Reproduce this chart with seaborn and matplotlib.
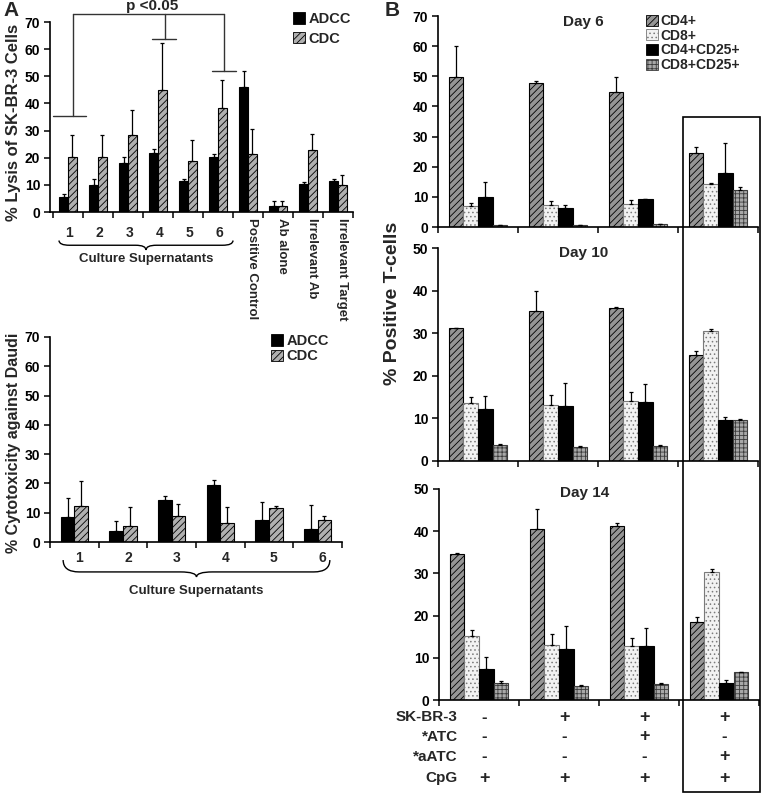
import numpy as np
import pandas as pd
import matplotlib
matplotlib.use("Agg")
import matplotlib.pyplot as plt
import seaborn as sns
from matplotlib.patches import Patch, Rectangle, PathPatch
from matplotlib.path import Path
import matplotlib.transforms as mtransforms

sns.set_theme(style="ticks")
plt.rcParams['font.family'] = ['Liberation Sans', 'DejaVu Sans']
plt.rcParams['font.weight'] = 'bold'
plt.rcParams['hatch.linewidth'] = 0.6
plt.rcParams['axes.edgecolor'] = 'black'
plt.rcParams['xtick.color'] = 'black'
plt.rcParams['ytick.color'] = 'black'

W, H = 761, 793

# Panel A (top): lysis of SK-BR-3 cells
lysis_groups = ["1", "2", "3", "4", "5", "6",
                "Positive Control", "Ab alone", "Irrelevant Ab", "Irrelevant Target"]
lysis_adcc = [5.6, 9.9, 18.0, 21.7, 11.6, 20.1, 46.0, 2.2, 10.2, 11.6]
lysis_adcc_top = [6.6, 12.2, 20.2, 23.1, 12.2, 21.5, 52.1, 4.2, 10.9, 12.2]
lysis_cdc = [20.2, 20.2, 28.2, 45.0, 18.8, 38.2, 21.3, 2.2, 22.9, 9.9]
lysis_cdc_top = [28.4, 28.4, 37.7, 62.2, 26.7, 48.5, 30.4, 4.2, 28.6, 13.5]

# significance bracket (p < 0.05)
sig_drop_x = [0.17, 3.23, 5.2]
sig_drop_y = [35.4, 63.7, 52.0]
sig_cap_left = [-0.5, 2.8, 4.8]
sig_cap_right = [0.6, 3.6, 5.6]
sig_top_y = 73

# Panel A (bottom): cytotoxicity against Daudi
daudi_groups = ["1", "2", "3", "4", "5", "6"]
daudi_adcc = [8.4, 3.6, 14.3, 19.4, 7.5, 4.5]
daudi_adcc_top = [15.0, 7.3, 15.7, 21.1, 13.6, 12.8]
daudi_cdc = [12.3, 5.4, 9.0, 6.6, 11.6, 7.6]
daudi_cdc_top = [20.8, 11.9, 13.0, 11.9, 12.2, 8.9]

# Panel B: % positive T-cells
tcell_groups = ["a", "b", "c", "d"]
day6_cd4 = [49.9, 47.8, 44.9, 24.4]
day6_cd4_top = [60.2, 48.6, 49.6, 26.4]
day6_cd8 = [7.1, 7.3, 7.7, 14.4]
day6_cd8_top = [7.9, 8.7, 8.8, 14.7]
day6_cd4cd25 = [10.1, 6.3, 9.3, 17.9]
day6_cd4cd25_top = [14.8, 7.2, 9.4, 28.0]
day6_cd8cd25 = [0.7, 0.7, 1.0, 12.4]
day6_cd8cd25_top = [0.7, 0.7, 1.0, 13.4]

day10_cd4 = [31.2, 35.3, 35.8, 24.9]
day10_cd4_top = [31.3, 40.0, 36.2, 25.9]
day10_cd8 = [13.5, 13.2, 14.2, 30.5]
day10_cd8_top = [15.0, 15.6, 16.3, 31.1]
day10_cd4cd25 = [12.3, 12.8, 13.9, 9.6]
day10_cd4cd25_top = [15.2, 18.2, 18.1, 10.3]
day10_cd8cd25 = [3.75, 3.2, 3.5, 9.6]
day10_cd8cd25_top = [4.1, 3.6, 3.7, 9.8]

day14_cd4 = [34.7, 40.5, 41.3, 18.5]
day14_cd4_top = [34.9, 45.2, 41.9, 19.6]
day14_cd8 = [15.1, 13.0, 12.7, 30.3]
day14_cd8_top = [16.7, 15.6, 14.8, 31.0]
day14_cd4cd25 = [7.3, 12.0, 12.8, 4.1]
day14_cd4cd25_top = [10.2, 17.6, 17.0, 4.8]
day14_cd8cd25 = [4.1, 3.4, 3.9, 6.6]
day14_cd8cd25_top = [4.5, 3.6, 4.0, 6.7]

# condition table under panel B
cond_names = ["SK-BR-3", "*ATC", "*aATC", "CpG"]
cond_skbr3 = ["-", "+", "+", "+"]
cond_atc = ["-", "-", "+", "-"]
cond_aatc = ["-", "-", "-", "+"]
cond_cpg = ["+", "+", "+", "+"]

STYLES = {
    "ADCC": dict(fc="black", ec="black", hatch=None),
    "CDC": dict(fc="#b0b0b0", ec="black", hatch="/////"),
    "CD4+": dict(fc="#959595", ec="black", hatch="/////"),
    "CD8+": dict(fc="#f2f2f2", ec="#7a7a7a", hatch="...."),
    "CD4+CD25+": dict(fc="black", ec="black", hatch=None),
    "CD8+CD25+": dict(fc="#a8a8a8", ec="#3c3c3c", hatch="++++"),
}
BOLD = dict(fontweight="bold")


def px_axes(fig, x0, y0, x1, y1):
    return fig.add_axes([x0 / W, 1 - y1 / H, (x1 - x0) / W, (y1 - y0) / H])


def bar_panel(ax, groups, series, width):
    rows = []
    for name, (vals, _) in series.items():
        for g, v in zip(groups, vals):
            rows.append({"group": g, "series": name, "value": v})
    df = pd.DataFrame(rows)
    sns.barplot(data=df, x="group", y="value", hue="series", order=groups,
                hue_order=list(series), palette={s: STYLES[s]["fc"] for s in series},
                width=width, saturation=1, errorbar=None, legend=False, ax=ax)
    for cont, (name, (vals, tops)) in zip(ax.containers, series.items()):
        st = STYLES[name]
        for bar in cont:
            bar.set_edgecolor(st["ec"])
            bar.set_linewidth(0.8)
            if st["hatch"]:
                bar.set_hatch(st["hatch"])
        xs = [b.get_x() + b.get_width() / 2 for b in cont]
        vals = np.array(vals)
        up = np.array(tops) - vals
        ax.errorbar(xs, vals, yerr=[np.zeros_like(up), up], fmt="none",
                    ecolor="black", elinewidth=0.9, capsize=1.6, capthick=0.9)
    ax.set_xlabel("")
    ax.set_ylabel("")
    ax.set_xticks(np.arange(len(groups) + 1) - 0.5)
    ax.set_xticklabels([])
    sns.despine(ax=ax)
    ax.spines["left"].set_linewidth(1.2)
    ax.spines["bottom"].set_linewidth(1.2)
    ax.tick_params(axis="both", direction="out", length=4, width=1.1, labelsize=10, pad=3)


def finish_yticks(ax):
    for lbl in ax.get_yticklabels():
        lbl.set_fontweight("bold")


def legend_handles(names):
    return [Patch(facecolor=STYLES[n]["fc"], edgecolor=STYLES[n]["ec"],
                  hatch=STYLES[n]["hatch"], linewidth=0.6, label=n) for n in names]


def brace(ax, x0, x1, y_end, y_mid, y_tip):
    tr = mtransforms.blended_transform_factory(ax.transData, ax.transAxes)
    xm = (x0 + x1) / 2
    d = (x1 - x0) * 0.06
    verts = [(x0, y_end), (x0, y_mid), (x0 + d, y_mid),
             (xm - d, y_mid), (xm, y_mid), (xm, y_tip),
             (xm, y_mid), (xm + d, y_mid),
             (x1 - d, y_mid), (x1, y_mid), (x1, y_end)]
    codes = [Path.MOVETO, Path.CURVE3, Path.CURVE3,
             Path.LINETO, Path.CURVE3, Path.CURVE3,
             Path.CURVE3, Path.CURVE3,
             Path.LINETO, Path.CURVE3, Path.CURVE3]
    ax.add_patch(PathPatch(Path(verts, codes), fill=False, lw=1.0, ec="black",
                           transform=tr, clip_on=False))
    return tr, xm


fig = plt.figure(figsize=(W / 100, H / 100), dpi=100)

# ---------------- Panel A top ----------------
axA1 = px_axes(fig, 50, 22, 353, 212)
bar_panel(axA1, lysis_groups,
          {"ADCC": (lysis_adcc, lysis_adcc_top), "CDC": (lysis_cdc, lysis_cdc_top)}, 0.58)
axA1.set_xlim(-0.6, 9.5)
axA1.set_ylim(0, 70)
axA1.set_yticks(range(0, 71, 10))
finish_yticks(axA1)
fig.text(14 / W, 1 - 122 / H, "% Lysis of SK-BR-3 Cells", rotation=90,
         ha="center", va="center", fontsize=12, **BOLD)

tr = mtransforms.blended_transform_factory(axA1.transData, axA1.transAxes)
for i, g in enumerate(lysis_groups):
    if i < 6:
        axA1.text(i + 0.05, -0.11, g, transform=tr, ha="center", va="center",
                  fontsize=10, **BOLD)
    else:
        axA1.text(i + 0.12, -0.03, g, transform=tr, ha="center", va="top",
                  rotation=-90, fontsize=9.5, **BOLD)
tr, xm = brace(axA1, -0.3, 5.5, -0.15, -0.175, -0.2)
axA1.text(xm, -0.247, "Culture Supernatants", transform=tr, ha="center", va="center",
          fontsize=9.5, **BOLD)

# significance bracket
axA1.plot([sig_drop_x[0], sig_drop_x[-1]], [sig_top_y, sig_top_y], color="#333333", lw=1, clip_on=False)
for x, y, cl, cr in zip(sig_drop_x, sig_drop_y, sig_cap_left, sig_cap_right):
    axA1.plot([x, x], [sig_top_y, y], color="#333333", lw=1, clip_on=False)
    axA1.plot([cl, cr], [y, y], color="#333333", lw=1, clip_on=False)
axA1.text(2.8, sig_top_y + 0.3, "p <0.05", ha="center", va="bottom", fontsize=11, **BOLD)

fig.legend(handles=legend_handles(["ADCC", "CDC"]), loc="upper left",
           bbox_to_anchor=(293 / W, 1 - 12 / H), frameon=False,
           prop=dict(size=10.5, weight="bold"),
           handlelength=0.8, handleheight=0.8, handletextpad=0.25,
           labelspacing=0.4, borderpad=0, borderaxespad=0)

# ---------------- Panel A bottom ----------------
axA2 = px_axes(fig, 50, 337, 342, 542)
bar_panel(axA2, daudi_groups,
          {"ADCC": (daudi_adcc, daudi_adcc_top), "CDC": (daudi_cdc, daudi_cdc_top)}, 0.56)
axA2.set_xlim(-0.5, 5.5)
axA2.set_ylim(0, 70)
axA2.set_yticks(range(0, 71, 10))
finish_yticks(axA2)
fig.text(14 / W, 1 - 443 / H, "% Cytotoxicity against Daudi", rotation=90,
         ha="center", va="center", fontsize=11.5, **BOLD)
tr = mtransforms.blended_transform_factory(axA2.transData, axA2.transAxes)
for i, g in enumerate(daudi_groups):
    axA2.text(i + 0.1, -0.078, g, transform=tr, ha="center", va="center",
              fontsize=10, **BOLD)
tr, xm = brace(axA2, -0.23, 5.25, -0.088, -0.146, -0.171)
axA2.text(xm, -0.239, "Culture Supernatants", transform=tr, ha="center", va="center",
          fontsize=9.5, **BOLD)

fig.legend(handles=legend_handles(["ADCC", "CDC"]), loc="upper left",
           bbox_to_anchor=(271 / W, 1 - 334 / H), frameon=False,
           prop=dict(size=10.5, weight="bold"),
           handlelength=0.8, handleheight=0.8, handletextpad=0.25,
           labelspacing=0.08, borderpad=0, borderaxespad=0)

# ---------------- Panel B ----------------
b_names = ["CD4+", "CD8+", "CD4+CD25+", "CD8+CD25+"]
days = [
    ("Day 6", (438, 16, 758, 227), 70, 0.97,
     [(day6_cd4, day6_cd4_top), (day6_cd8, day6_cd8_top),
      (day6_cd4cd25, day6_cd4cd25_top), (day6_cd8cd25, day6_cd8cd25_top)]),
    ("Day 10", (438, 248, 758, 461), 50, 0.977,
     [(day10_cd4, day10_cd4_top), (day10_cd8, day10_cd8_top),
      (day10_cd4cd25, day10_cd4cd25_top), (day10_cd8cd25, day10_cd8cd25_top)]),
    ("Day 14", (439, 489, 759, 700), 50, 0.98,
     [(day14_cd4, day14_cd4_top), (day14_cd8, day14_cd8_top),
      (day14_cd4cd25, day14_cd4cd25_top), (day14_cd8cd25, day14_cd8cd25_top)]),
]
b_axes = []
for title, box, ymax, ty, data in days:
    ax = px_axes(fig, *box)
    bar_panel(ax, tcell_groups, dict(zip(b_names, data)), 0.73)
    ax.set_xlim(-0.5, 3.5)
    ax.set_ylim(0, ymax)
    ax.set_yticks(range(0, ymax + 1, 10))
    finish_yticks(ax)
    ax.text(0.455, ty, title, transform=ax.transAxes, ha="center", va="center",
            fontsize=11, **BOLD)
    b_axes.append(ax)

fig.legend(handles=legend_handles(b_names), loc="upper left",
           bbox_to_anchor=(646 / W, 1 - 14 / H), frameon=False,
           prop=dict(size=10, weight="bold"),
           handlelength=0.85, handleheight=0.85, handletextpad=0.2,
           labelspacing=0.05, borderpad=0, borderaxespad=0)

fig.text(392 / W, 1 - 303 / H, "% Positive T-cells", rotation=90,
         ha="center", va="center", fontsize=14, **BOLD)

# condition table
axB3 = b_axes[-1]
tr = mtransforms.blended_transform_factory(axB3.transData, axB3.transAxes)
row_y = [-0.081, -0.175, -0.27, -0.37]
for name, signs, y in zip(cond_names, [cond_skbr3, cond_atc, cond_aatc, cond_cpg], row_y):
    axB3.text(0.059, y, name, transform=axB3.transAxes, ha="right", va="center",
              fontsize=11, **BOLD)
    for i, s in enumerate(signs):
        axB3.text(i + 0.07, y, s, transform=tr, ha="center", va="center",
                  fontsize=13 if s == "+" else 12, fontweight="heavy")

# box around the aATC condition
fig.add_artist(Rectangle((683 / W, 1 - 792 / H), (760 - 683) / W, (792 - 117) / H,
                         transform=fig.transFigure, fill=False, ec="black", lw=1.2))

fig.text(3 / W, 1 - 1 / H, "A", ha="left", va="top", fontsize=15, **BOLD)
fig.text(385 / W, 1 - 1 / H, "B", ha="left", va="top", fontsize=15, **BOLD)

fig.savefig("out.png", dpi=100)
